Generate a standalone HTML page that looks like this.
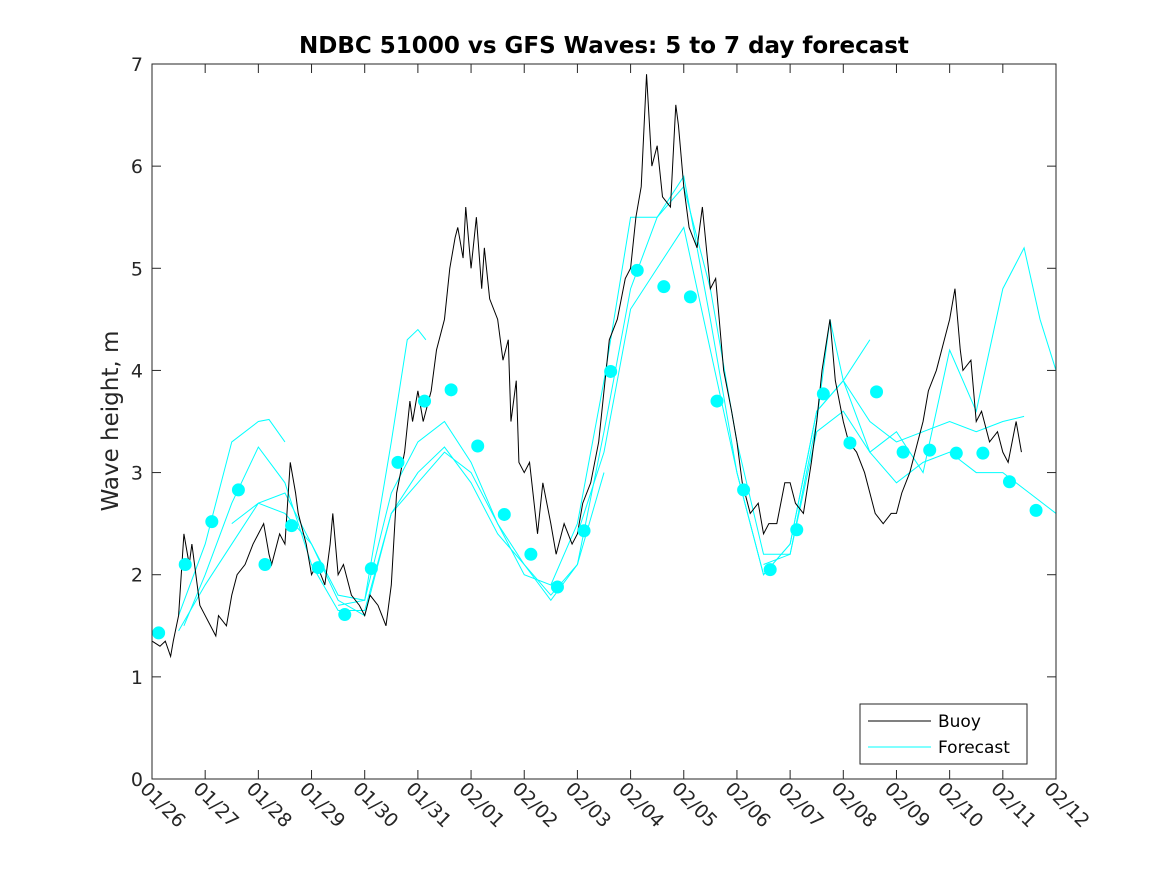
<!DOCTYPE html>
<html><head><meta charset="utf-8"><style>
body{margin:0;background:#fff;}
svg{display:block;font-family:"DejaVu Sans","Liberation Sans",sans-serif;}
</style></head><body>
<svg id="chart" width="1167" height="875" viewBox="0 0 1167 875">
<rect x="0" y="0" width="1167" height="875" fill="#fff"/>
<text x="604" y="53" text-anchor="middle" font-size="23" font-weight="bold" fill="#000">NDBC 51000 vs GFS Waves: 5 to 7 day forecast</text>
<text transform="translate(118,421) rotate(-90)" text-anchor="middle" font-size="23" fill="#262626">Wave height, m</text>
<g id="grid"></g>
<g id="series"></g>
<rect x="152" y="64" width="904" height="715" fill="none" stroke="#262626" stroke-width="1"/>
<g>
<rect x="860" y="704" width="167" height="60" fill="#fff" stroke="#262626" stroke-width="1"/>
<line x1="868" y1="721" x2="931" y2="721" stroke="#000"/>
<text x="938" y="727" font-size="17" fill="#000">Buoy</text>
<line x1="868" y1="747" x2="931" y2="747" stroke="#00ffff"/>
<text x="938" y="753" font-size="17" fill="#000">Forecast</text>
</g>
</svg>
<script>
const xTickLabels=["01/26","01/27","01/28","01/29","01/30","01/31","02/01","02/02","02/03","02/04","02/05","02/06","02/07","02/08","02/09","02/10","02/11","02/12"];
const yTicks=[0,1,2,3,4,5,6,7];
const buoyDays=[0,0.15,0.25,0.35,0.4,0.5,0.6,0.7,0.75,0.85,0.9,1.0,1.1,1.2,1.25,1.4,1.5,1.6,1.75,1.9,2.0,2.1,2.2,2.25,2.4,2.5,2.6,2.7,2.75,2.9,3.0,3.1,3.25,3.35,3.4,3.5,3.6,3.75,3.9,4.0,4.1,4.25,4.4,4.5,4.6,4.75,4.85,4.9,5.0,5.1,5.25,5.35,5.5,5.6,5.7,5.75,5.85,5.9,6.0,6.1,6.2,6.25,6.35,6.5,6.6,6.7,6.75,6.85,6.9,7.0,7.1,7.25,7.35,7.5,7.6,7.75,7.9,8.0,8.1,8.25,8.4,8.5,8.6,8.75,8.9,9.0,9.1,9.2,9.3,9.4,9.5,9.6,9.75,9.85,9.9,10.0,10.1,10.25,10.35,10.5,10.6,10.75,10.9,11.0,11.1,11.25,11.4,11.5,11.6,11.75,11.9,12.0,12.1,12.25,12.4,12.5,12.6,12.75,12.85,13.0,13.1,13.25,13.4,13.5,13.6,13.75,13.9,14.0,14.1,14.25,14.4,14.5,14.6,14.75,14.9,15.0,15.1,15.2,15.25,15.4,15.5,15.6,15.75,15.9,16.0,16.1,16.25,16.35];
const buoyVals=[1.35,1.3,1.35,1.2,1.35,1.6,2.4,2.1,2.3,1.9,1.7,1.6,1.5,1.4,1.6,1.5,1.8,2.0,2.1,2.3,2.4,2.5,2.2,2.1,2.4,2.3,3.1,2.8,2.6,2.3,2.0,2.1,1.9,2.3,2.6,2.0,2.1,1.8,1.7,1.6,1.8,1.7,1.5,1.9,2.8,3.2,3.7,3.5,3.8,3.5,3.8,4.2,4.5,5.0,5.3,5.4,5.1,5.6,5.0,5.5,4.8,5.2,4.7,4.5,4.1,4.3,3.5,3.9,3.1,3.0,3.1,2.4,2.9,2.5,2.2,2.5,2.3,2.4,2.7,2.9,3.3,3.8,4.3,4.5,4.9,5.0,5.5,5.8,6.9,6.0,6.2,5.7,5.6,6.6,6.4,5.8,5.4,5.2,5.6,4.8,4.9,4.0,3.6,3.3,2.9,2.6,2.7,2.4,2.5,2.5,2.9,2.9,2.7,2.6,3.1,3.5,4.0,4.5,3.9,3.5,3.3,3.2,3.0,2.8,2.6,2.5,2.6,2.6,2.8,3.0,3.3,3.5,3.8,4.0,4.3,4.5,4.8,4.2,4.0,4.1,3.5,3.6,3.3,3.4,3.2,3.1,3.5,3.2];
const markerStart=0.125;
const markerStep=0.5;
const markerVals=[1.43,2.1,2.52,2.83,2.1,2.48,2.07,1.61,2.06,3.1,3.7,3.81,3.26,2.59,2.2,1.88,2.43,3.99,4.98,4.82,4.72,3.7,2.83,2.05,2.44,3.77,3.29,3.79,3.2,3.22,3.19,3.19,2.91,2.63];
const runA=[[0.5,1.45],[1,1.9],[1.5,2.3],[2,2.7],[2.5,2.8],[3,2.3],[3.5,1.75],[4,1.6],[4.5,2.6],[5,2.9],[5.5,3.2],[6,3.0],[6.5,2.5],[7,2.1],[7.5,1.75],[8,2.1],[8.5,3.0]];
const runB=[[0.5,1.6],[1,2.3],[1.5,3.3],[2,3.5],[2.2,3.52],[2.5,3.3]];
const runC=[[0.6,1.5],[1,2.0],[1.5,2.7],[2,3.25],[2.5,2.9],[3,2.1],[3.5,1.65],[4,1.65],[4.5,2.6],[5,3.0],[5.5,3.25],[6,2.9],[6.5,2.4],[7,2.1],[7.5,1.8],[8,2.1],[8.5,3.4],[9,4.8],[9.5,5.5],[10,5.9],[10.5,4.5],[11,3.0],[11.5,2.0],[12,2.3],[12.5,3.6],[13,3.9],[13.5,3.5],[14,3.3],[14.5,3.4],[15,3.5],[15.5,3.4],[16,3.5],[16.4,3.55]];
const runD=[[1.5,2.5],[2,2.7],[2.5,2.6],[3,2.3],[3.5,1.8],[4,1.75],[4.5,2.8],[5,3.3],[5.5,3.5],[6,3.1],[6.5,2.5],[7,2.0],[7.5,1.9],[8,2.5],[8.5,3.9],[9,5.5],[9.5,5.5],[10,5.8],[10.5,4.8],[11,3.3],[11.5,2.2],[12,2.2],[12.5,3.4],[13,3.6],[13.5,3.2],[14,2.9],[14.5,3.1],[15,3.2],[15.5,3.0],[16,3.0],[16.5,2.8],[17,2.6]];
const runE=[[3.5,1.7],[4,1.75],[4.5,3.3],[4.8,4.3],[5.0,4.4],[5.15,4.3]];
const runF=[[8,2.4],[8.5,3.2],[9,4.6],[9.5,5.0],[10,5.4],[10.5,4.2],[11,3.0],[11.5,2.0],[12,2.3],[12.5,3.6],[13,3.9],[13.5,4.3]];
const runG=[[11.5,2.1],[12,2.2],[12.5,3.5],[12.75,4.5],[13,3.9],[13.5,3.2],[14,3.4],[14.5,3.0],[15,4.2],[15.5,3.6],[16,4.8],[16.4,5.2],[16.7,4.5],[17,4.0]];
const forecastRuns=[runA,runB,runC,runD,runE,runF,runG];

const X0=152,X1=1056,Y0=779,Y1=64;
const xs=d=>X0+(X1-X0)*d/17;
const ys=v=>Y0-(Y0-Y1)*v/7;
const NS="http://www.w3.org/2000/svg";
const grid=document.getElementById('grid'),ser=document.getElementById('series');
function mk(tag,attrs,parent){const e=document.createElementNS(NS,tag);for(const k in attrs)e.setAttribute(k,attrs[k]);parent.appendChild(e);return e;}
xTickLabels.forEach((lab,i)=>{
  const x=xs(i);
  const t=mk('line',{x1:x,y1:Y0,x2:x,y2:Y0-9,stroke:'#262626'},grid);
  
  
  const tt=mk('line',{x1:x,y1:Y1,x2:x,y2:Y1+9,stroke:'#262626'},grid);
  
  
  const tx=mk('text',{x:0,y:0,'font-size':19,fill:'#262626',transform:`translate(${x-13},${Y0+11}) rotate(45)`},grid);
  tx.textContent=lab;
  
  
});
yTicks.forEach(v=>{
  const y=ys(v);
  const t=mk('line',{x1:X0,y1:y,x2:X0+9,y2:y,stroke:'#262626'},grid);
  
  
  const tr=mk('line',{x1:X1,y1:y,x2:X1-9,y2:y,stroke:'#262626'},grid);
  
  
  const tx=mk('text',{x:X0-9,y:y+7,'font-size':19,fill:'#262626','text-anchor':'end'},grid);
  tx.textContent=v;
  
  
});
forecastRuns.forEach(run=>{
  const p=mk('polyline',{points:run.map(([d,v])=>xs(d)+','+ys(v)).join(' '),fill:'none',stroke:'#00ffff','stroke-width':1},ser);
  
  
});
const b=mk('polyline',{points:buoyDays.map((d,i)=>xs(d)+','+ys(buoyVals[i])).join(' '),fill:'none',stroke:'#000','stroke-width':1},ser);


markerVals.forEach((v,i)=>{
  const c=mk('circle',{cx:xs(markerStart+i*markerStep),cy:ys(v),r:6.5,fill:'#00ffff'},ser);
  
  
});
</script>
</body></html>
